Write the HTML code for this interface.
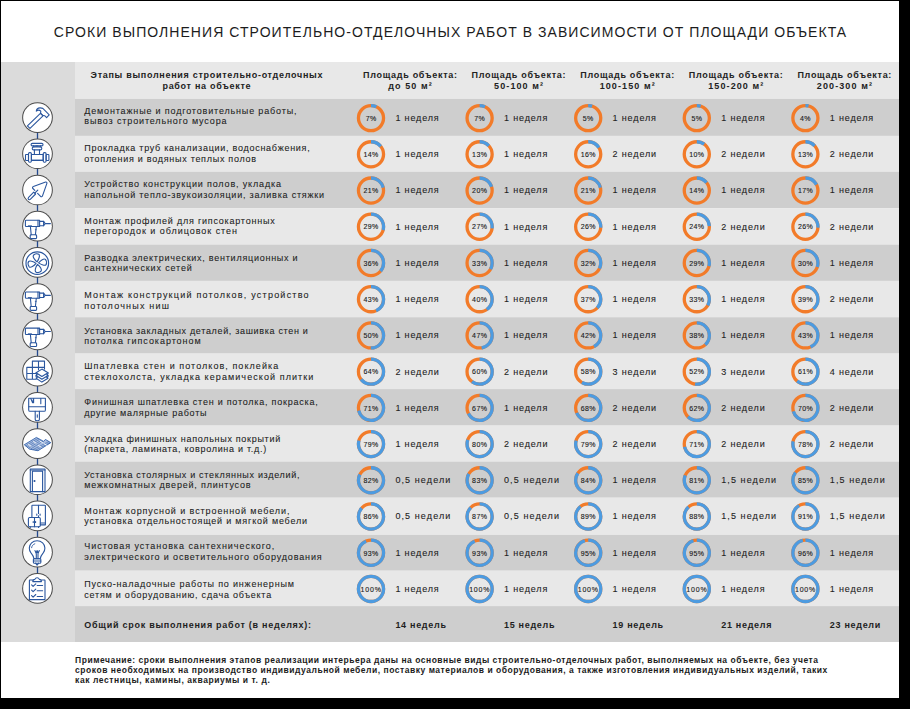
<!DOCTYPE html>
<html><head><meta charset="utf-8"><style>
html,body{margin:0;padding:0;background:#000;width:910px;height:709px;overflow:hidden;}
body{position:relative;font-family:"Liberation Sans",sans-serif;}
.card{position:absolute;left:1px;top:1px;width:898px;height:697px;background:#fff;}
.a{position:absolute;white-space:nowrap;}
.title{font-size:14px;letter-spacing:1.055px;color:#1c1c1c;}
.hd{font-size:9px;font-weight:bold;letter-spacing:0.7px;color:#222;}
.hc{font-size:9px;font-weight:bold;letter-spacing:0.7px;color:#222;}
.hc2{font-size:9px;font-weight:bold;letter-spacing:1.1px;color:#222;}
.st{font-size:9px;letter-spacing:0.77px;color:#222;-webkit-text-stroke:0.08px #222;}
.dur{font-size:9px;letter-spacing:0.85px;color:#1e1e1e;-webkit-text-stroke:0.1px #1e1e1e;}
.w{letter-spacing:1.1px !important;}
.p3{letter-spacing:0.8px !important;}
.pc{font-size:7px;font-weight:normal;letter-spacing:0.4px;color:#1a1a1a;-webkit-text-stroke:0.12px #1a1a1a;}
.tot{font-size:9px;font-weight:bold;letter-spacing:0.7px;color:#1e1e1e;}
.totl{font-size:9px;font-weight:bold;letter-spacing:0.74px;color:#1e1e1e;}
.note{font-size:8.5px;font-weight:bold;letter-spacing:0.521px;color:#1c1c1c;}
</style></head><body>
<div class="card"></div>

<svg class="a" style="left:0;top:0" width="910" height="709"><rect x="1" y="62.0" width="74" height="580.00" fill="#dbdbdb"/><rect x="75" y="62.0" width="824" height="36.90" fill="#e8e8e8"/><rect x="75" y="98.90" width="824" height="37.00" fill="#cecece"/><rect x="75" y="135.90" width="824" height="35.90" fill="#e8e8e8"/><rect x="75" y="171.80" width="824" height="36.30" fill="#cecece"/><rect x="75" y="208.10" width="824" height="36.50" fill="#e8e8e8"/><rect x="75" y="244.60" width="824" height="36.30" fill="#cecece"/><rect x="75" y="280.90" width="824" height="36.30" fill="#e8e8e8"/><rect x="75" y="317.20" width="824" height="36.40" fill="#cecece"/><rect x="75" y="353.60" width="824" height="35.50" fill="#e8e8e8"/><rect x="75" y="389.10" width="824" height="36.50" fill="#cecece"/><rect x="75" y="425.60" width="824" height="36.00" fill="#e8e8e8"/><rect x="75" y="461.60" width="824" height="36.10" fill="#cecece"/><rect x="75" y="497.70" width="824" height="37.20" fill="#e8e8e8"/><rect x="75" y="534.90" width="824" height="35.80" fill="#cecece"/><rect x="75" y="570.70" width="824" height="35.40" fill="#e8e8e8"/><rect x="75" y="606.10" width="824" height="35.90" fill="#cecece"/></svg>
<div class="a title" style="left:-49.48px;width:1000px;text-align:center;top:24px;line-height:16px">СРОКИ ВЫПОЛНЕНИЯ СТРОИТЕЛЬНО-ОТДЕЛОЧНЫХ РАБОТ В ЗАВИСИМОСТИ ОТ ПЛОЩАДИ ОБЪЕКТА</div>
<div class="a hd" style="left:-293.15px;width:1000px;text-align:center;top:70px;line-height:10px">Этапы выполнения строительно-отделочных</div>
<div class="a hd" style="left:-293.15px;width:1000px;text-align:center;top:81px;line-height:10px">работ на объекте</div>
<div class="a hc" style="left:-89.65px;width:1000px;text-align:center;top:70px;line-height:10px">Площадь объекта:</div>
<div class="a hc2" style="left:-89.45px;width:1000px;text-align:center;top:81px;line-height:10px">до 50 м²</div>
<div class="a hc" style="left:18.95px;width:1000px;text-align:center;top:70px;line-height:10px">Площадь объекта:</div>
<div class="a hc2" style="left:19.15px;width:1000px;text-align:center;top:81px;line-height:10px">50-100 м²</div>
<div class="a hc" style="left:127.55px;width:1000px;text-align:center;top:70px;line-height:10px">Площадь объекта:</div>
<div class="a hc2" style="left:127.75px;width:1000px;text-align:center;top:81px;line-height:10px">100-150 м²</div>
<div class="a hc" style="left:236.15px;width:1000px;text-align:center;top:70px;line-height:10px">Площадь объекта:</div>
<div class="a hc2" style="left:236.35px;width:1000px;text-align:center;top:81px;line-height:10px">150-200 м²</div>
<div class="a hc" style="left:344.75px;width:1000px;text-align:center;top:70px;line-height:10px">Площадь объекта:</div>
<div class="a hc2" style="left:344.95px;width:1000px;text-align:center;top:81px;line-height:10px">200-300 м²</div>
<div class="a st" style="left:84.30px;top:106px;line-height:10px"><span style="letter-spacing:0.839px">Демонтажные и подготовительные работы,</span></div>
<div class="a st" style="left:84.30px;top:116px;line-height:10px"><span style="letter-spacing:0.862px">вывоз строительного мусора</span></div>
<div class="a pc" style="left:-128.90px;width:1000px;text-align:center;top:115px;line-height:7px">7%</div>
<div class="a dur" style="left:395.40px;top:113px;line-height:10px">1 неделя</div>
<div class="a pc" style="left:-20.30px;width:1000px;text-align:center;top:115px;line-height:7px">7%</div>
<div class="a dur" style="left:504.00px;top:113px;line-height:10px">1 неделя</div>
<div class="a pc" style="left:88.30px;width:1000px;text-align:center;top:115px;line-height:7px">5%</div>
<div class="a dur" style="left:612.60px;top:113px;line-height:10px">1 неделя</div>
<div class="a pc" style="left:196.90px;width:1000px;text-align:center;top:115px;line-height:7px">5%</div>
<div class="a dur" style="left:721.20px;top:113px;line-height:10px">1 неделя</div>
<div class="a pc" style="left:305.50px;width:1000px;text-align:center;top:115px;line-height:7px">4%</div>
<div class="a dur" style="left:829.80px;top:113px;line-height:10px">1 неделя</div>
<div class="a st" style="left:84.30px;top:143px;line-height:10px"><span style="letter-spacing:0.733px">Прокладка труб канализации, водоснабжения,</span></div>
<div class="a st" style="left:84.30px;top:154px;line-height:10px"><span style="letter-spacing:0.722px">отопления и водяных теплых полов</span></div>
<div class="a pc" style="left:-128.90px;width:1000px;text-align:center;top:151px;line-height:7px">14%</div>
<div class="a dur" style="left:395.40px;top:149px;line-height:10px">1 неделя</div>
<div class="a pc" style="left:-20.30px;width:1000px;text-align:center;top:151px;line-height:7px">13%</div>
<div class="a dur" style="left:504.00px;top:149px;line-height:10px">1 неделя</div>
<div class="a pc" style="left:88.30px;width:1000px;text-align:center;top:151px;line-height:7px">16%</div>
<div class="a dur" style="left:612.60px;top:149px;line-height:10px">2 недели</div>
<div class="a pc" style="left:196.90px;width:1000px;text-align:center;top:151px;line-height:7px">10%</div>
<div class="a dur" style="left:721.20px;top:149px;line-height:10px">2 недели</div>
<div class="a pc" style="left:305.50px;width:1000px;text-align:center;top:151px;line-height:7px">13%</div>
<div class="a dur" style="left:829.80px;top:149px;line-height:10px">2 недели</div>
<div class="a st" style="left:84.30px;top:179px;line-height:10px"><span style="letter-spacing:0.845px">Устройство конструкции полов, укладка</span></div>
<div class="a st" style="left:84.30px;top:190px;line-height:10px"><span style="letter-spacing:0.788px">напольной тепло-звукоизоляции, заливка стяжки</span></div>
<div class="a pc" style="left:-128.90px;width:1000px;text-align:center;top:187px;line-height:7px">21%</div>
<div class="a dur" style="left:395.40px;top:185px;line-height:10px">1 неделя</div>
<div class="a pc" style="left:-20.30px;width:1000px;text-align:center;top:187px;line-height:7px">20%</div>
<div class="a dur" style="left:504.00px;top:185px;line-height:10px">1 неделя</div>
<div class="a pc" style="left:88.30px;width:1000px;text-align:center;top:187px;line-height:7px">21%</div>
<div class="a dur" style="left:612.60px;top:185px;line-height:10px">1 неделя</div>
<div class="a pc" style="left:196.90px;width:1000px;text-align:center;top:187px;line-height:7px">14%</div>
<div class="a dur" style="left:721.20px;top:185px;line-height:10px">1 неделя</div>
<div class="a pc" style="left:305.50px;width:1000px;text-align:center;top:187px;line-height:7px">17%</div>
<div class="a dur" style="left:829.80px;top:185px;line-height:10px">1 неделя</div>
<div class="a st" style="left:84.30px;top:216px;line-height:10px"><span style="letter-spacing:0.776px">Монтаж профилей для гипсокартонных</span></div>
<div class="a st" style="left:84.30px;top:226px;line-height:10px"><span style="letter-spacing:0.963px">перегородок и облицовок стен</span></div>
<div class="a pc" style="left:-128.90px;width:1000px;text-align:center;top:223px;line-height:7px">29%</div>
<div class="a dur" style="left:395.40px;top:222px;line-height:10px">1 неделя</div>
<div class="a pc" style="left:-20.30px;width:1000px;text-align:center;top:223px;line-height:7px">27%</div>
<div class="a dur" style="left:504.00px;top:222px;line-height:10px">1 неделя</div>
<div class="a pc" style="left:88.30px;width:1000px;text-align:center;top:223px;line-height:7px">26%</div>
<div class="a dur" style="left:612.60px;top:222px;line-height:10px">1 неделя</div>
<div class="a pc" style="left:196.90px;width:1000px;text-align:center;top:223px;line-height:7px">24%</div>
<div class="a dur" style="left:721.20px;top:222px;line-height:10px">2 недели</div>
<div class="a pc" style="left:305.50px;width:1000px;text-align:center;top:223px;line-height:7px">26%</div>
<div class="a dur" style="left:829.80px;top:222px;line-height:10px">2 недели</div>
<div class="a st" style="left:84.30px;top:253px;line-height:10px"><span style="letter-spacing:0.747px">Разводка электрических, вентиляционных и</span></div>
<div class="a st" style="left:84.30px;top:263px;line-height:10px"><span style="letter-spacing:0.859px">сантехнических сетей</span></div>
<div class="a pc" style="left:-128.90px;width:1000px;text-align:center;top:260px;line-height:7px">36%</div>
<div class="a dur" style="left:395.40px;top:258px;line-height:10px">1 неделя</div>
<div class="a pc" style="left:-20.30px;width:1000px;text-align:center;top:260px;line-height:7px">33%</div>
<div class="a dur" style="left:504.00px;top:258px;line-height:10px">1 неделя</div>
<div class="a pc" style="left:88.30px;width:1000px;text-align:center;top:260px;line-height:7px">32%</div>
<div class="a dur" style="left:612.60px;top:258px;line-height:10px">1 неделя</div>
<div class="a pc" style="left:196.90px;width:1000px;text-align:center;top:260px;line-height:7px">29%</div>
<div class="a dur" style="left:721.20px;top:258px;line-height:10px">1 неделя</div>
<div class="a pc" style="left:305.50px;width:1000px;text-align:center;top:260px;line-height:7px">30%</div>
<div class="a dur" style="left:829.80px;top:258px;line-height:10px">1 неделя</div>
<div class="a st" style="left:84.30px;top:290px;line-height:10px"><span style="letter-spacing:1.225px">Монтаж конструкций потолков, устройство</span></div>
<div class="a st" style="left:84.30px;top:301px;line-height:10px"><span style="letter-spacing:1.201px">потолочных ниш</span></div>
<div class="a pc" style="left:-128.90px;width:1000px;text-align:center;top:296px;line-height:7px">43%</div>
<div class="a dur" style="left:395.40px;top:294px;line-height:10px">1 неделя</div>
<div class="a pc" style="left:-20.30px;width:1000px;text-align:center;top:296px;line-height:7px">40%</div>
<div class="a dur" style="left:504.00px;top:294px;line-height:10px">1 неделя</div>
<div class="a pc" style="left:88.30px;width:1000px;text-align:center;top:296px;line-height:7px">37%</div>
<div class="a dur" style="left:612.60px;top:294px;line-height:10px">1 неделя</div>
<div class="a pc" style="left:196.90px;width:1000px;text-align:center;top:296px;line-height:7px">33%</div>
<div class="a dur" style="left:721.20px;top:294px;line-height:10px">1 неделя</div>
<div class="a pc" style="left:305.50px;width:1000px;text-align:center;top:296px;line-height:7px">39%</div>
<div class="a dur" style="left:829.80px;top:294px;line-height:10px">2 недели</div>
<div class="a st" style="left:84.30px;top:326px;line-height:10px"><span style="letter-spacing:0.672px">Установка закладных деталей, зашивка стен и</span></div>
<div class="a st" style="left:84.30px;top:336px;line-height:10px"><span style="letter-spacing:0.95px">потолка гипсокартоном</span></div>
<div class="a pc" style="left:-128.90px;width:1000px;text-align:center;top:332px;line-height:7px">50%</div>
<div class="a dur" style="left:395.40px;top:330px;line-height:10px">1 неделя</div>
<div class="a pc" style="left:-20.30px;width:1000px;text-align:center;top:332px;line-height:7px">47%</div>
<div class="a dur" style="left:504.00px;top:330px;line-height:10px">1 неделя</div>
<div class="a pc" style="left:88.30px;width:1000px;text-align:center;top:332px;line-height:7px">42%</div>
<div class="a dur" style="left:612.60px;top:330px;line-height:10px">1 неделя</div>
<div class="a pc" style="left:196.90px;width:1000px;text-align:center;top:332px;line-height:7px">38%</div>
<div class="a dur" style="left:721.20px;top:330px;line-height:10px">1 неделя</div>
<div class="a pc" style="left:305.50px;width:1000px;text-align:center;top:332px;line-height:7px">43%</div>
<div class="a dur" style="left:829.80px;top:330px;line-height:10px">1 неделя</div>
<div class="a st" style="left:84.30px;top:361px;line-height:10px"><span style="letter-spacing:1.055px">Шпатлевка стен и потолков, поклейка</span></div>
<div class="a st" style="left:84.30px;top:372px;line-height:10px"><span style="letter-spacing:1.082px">стеклохолста, укладка керамической плитки</span></div>
<div class="a pc" style="left:-128.90px;width:1000px;text-align:center;top:368px;line-height:7px">64%</div>
<div class="a dur" style="left:395.40px;top:367px;line-height:10px">2 недели</div>
<div class="a pc" style="left:-20.30px;width:1000px;text-align:center;top:368px;line-height:7px">60%</div>
<div class="a dur" style="left:504.00px;top:367px;line-height:10px">2 недели</div>
<div class="a pc" style="left:88.30px;width:1000px;text-align:center;top:368px;line-height:7px">58%</div>
<div class="a dur" style="left:612.60px;top:367px;line-height:10px">3 недели</div>
<div class="a pc" style="left:196.90px;width:1000px;text-align:center;top:368px;line-height:7px">52%</div>
<div class="a dur" style="left:721.20px;top:367px;line-height:10px">3 недели</div>
<div class="a pc" style="left:305.50px;width:1000px;text-align:center;top:368px;line-height:7px">61%</div>
<div class="a dur" style="left:829.80px;top:367px;line-height:10px">4 недели</div>
<div class="a st" style="left:84.30px;top:397px;line-height:10px"><span style="letter-spacing:0.768px">Финишная шпатлевка стен и потолка, покраска,</span></div>
<div class="a st" style="left:84.30px;top:408px;line-height:10px"><span style="letter-spacing:0.756px">другие малярные работы</span></div>
<div class="a pc" style="left:-128.90px;width:1000px;text-align:center;top:405px;line-height:7px">71%</div>
<div class="a dur" style="left:395.40px;top:403px;line-height:10px">1 неделя</div>
<div class="a pc" style="left:-20.30px;width:1000px;text-align:center;top:405px;line-height:7px">67%</div>
<div class="a dur" style="left:504.00px;top:403px;line-height:10px">1 неделя</div>
<div class="a pc" style="left:88.30px;width:1000px;text-align:center;top:405px;line-height:7px">68%</div>
<div class="a dur" style="left:612.60px;top:403px;line-height:10px">2 недели</div>
<div class="a pc" style="left:196.90px;width:1000px;text-align:center;top:405px;line-height:7px">62%</div>
<div class="a dur" style="left:721.20px;top:403px;line-height:10px">2 недели</div>
<div class="a pc" style="left:305.50px;width:1000px;text-align:center;top:405px;line-height:7px">70%</div>
<div class="a dur" style="left:829.80px;top:403px;line-height:10px">2 недели</div>
<div class="a st" style="left:84.30px;top:434px;line-height:10px"><span style="letter-spacing:0.699px">Укладка финишных напольных покрытий</span></div>
<div class="a st" style="left:84.30px;top:444px;line-height:10px"><span style="letter-spacing:0.712px">(паркета, ламината, ковролина и т.д.)</span></div>
<div class="a pc" style="left:-128.90px;width:1000px;text-align:center;top:441px;line-height:7px">79%</div>
<div class="a dur" style="left:395.40px;top:439px;line-height:10px">1 неделя</div>
<div class="a pc" style="left:-20.30px;width:1000px;text-align:center;top:441px;line-height:7px">80%</div>
<div class="a dur" style="left:504.00px;top:439px;line-height:10px">2 недели</div>
<div class="a pc" style="left:88.30px;width:1000px;text-align:center;top:441px;line-height:7px">79%</div>
<div class="a dur" style="left:612.60px;top:439px;line-height:10px">2 недели</div>
<div class="a pc" style="left:196.90px;width:1000px;text-align:center;top:441px;line-height:7px">71%</div>
<div class="a dur" style="left:721.20px;top:439px;line-height:10px">2 недели</div>
<div class="a pc" style="left:305.50px;width:1000px;text-align:center;top:441px;line-height:7px">78%</div>
<div class="a dur" style="left:829.80px;top:439px;line-height:10px">2 недели</div>
<div class="a st" style="left:84.30px;top:470px;line-height:10px"><span style="letter-spacing:0.698px">Установка столярных и стеклянных изделий,</span></div>
<div class="a st" style="left:84.30px;top:480px;line-height:10px"><span style="letter-spacing:0.811px">межкомнатных дверей, плинтусов</span></div>
<div class="a pc" style="left:-128.90px;width:1000px;text-align:center;top:477px;line-height:7px">82%</div>
<div class="a dur w" style="left:395.40px;top:475px;line-height:10px">0,5 недели</div>
<div class="a pc" style="left:-20.30px;width:1000px;text-align:center;top:477px;line-height:7px">83%</div>
<div class="a dur w" style="left:504.00px;top:475px;line-height:10px">0,5 недели</div>
<div class="a pc" style="left:88.30px;width:1000px;text-align:center;top:477px;line-height:7px">84%</div>
<div class="a dur" style="left:612.60px;top:475px;line-height:10px">1 неделя</div>
<div class="a pc" style="left:196.90px;width:1000px;text-align:center;top:477px;line-height:7px">81%</div>
<div class="a dur w" style="left:721.20px;top:475px;line-height:10px">1,5 недели</div>
<div class="a pc" style="left:305.50px;width:1000px;text-align:center;top:477px;line-height:7px">85%</div>
<div class="a dur w" style="left:829.80px;top:475px;line-height:10px">1,5 недели</div>
<div class="a st" style="left:84.30px;top:506px;line-height:10px"><span style="letter-spacing:0.909px">Монтаж корпусной и встроенной мебели,</span></div>
<div class="a st" style="left:84.30px;top:516px;line-height:10px"><span style="letter-spacing:0.803px">установка отдельностоящей и мягкой мебели</span></div>
<div class="a pc" style="left:-128.90px;width:1000px;text-align:center;top:513px;line-height:7px">86%</div>
<div class="a dur w" style="left:395.40px;top:511px;line-height:10px">0,5 недели</div>
<div class="a pc" style="left:-20.30px;width:1000px;text-align:center;top:513px;line-height:7px">87%</div>
<div class="a dur w" style="left:504.00px;top:511px;line-height:10px">0,5 недели</div>
<div class="a pc" style="left:88.30px;width:1000px;text-align:center;top:513px;line-height:7px">89%</div>
<div class="a dur" style="left:612.60px;top:511px;line-height:10px">1 неделя</div>
<div class="a pc" style="left:196.90px;width:1000px;text-align:center;top:513px;line-height:7px">88%</div>
<div class="a dur w" style="left:721.20px;top:511px;line-height:10px">1,5 недели</div>
<div class="a pc" style="left:305.50px;width:1000px;text-align:center;top:513px;line-height:7px">91%</div>
<div class="a dur w" style="left:829.80px;top:511px;line-height:10px">1,5 недели</div>
<div class="a st" style="left:84.30px;top:541px;line-height:10px"><span style="letter-spacing:0.955px">Чистовая установка сантехнического,</span></div>
<div class="a st" style="left:84.30px;top:552px;line-height:10px"><span style="letter-spacing:0.856px">электрического и осветительного оборудования</span></div>
<div class="a pc" style="left:-128.90px;width:1000px;text-align:center;top:550px;line-height:7px">93%</div>
<div class="a dur" style="left:395.40px;top:548px;line-height:10px">1 неделя</div>
<div class="a pc" style="left:-20.30px;width:1000px;text-align:center;top:550px;line-height:7px">93%</div>
<div class="a dur" style="left:504.00px;top:548px;line-height:10px">1 неделя</div>
<div class="a pc" style="left:88.30px;width:1000px;text-align:center;top:550px;line-height:7px">95%</div>
<div class="a dur" style="left:612.60px;top:548px;line-height:10px">1 неделя</div>
<div class="a pc" style="left:196.90px;width:1000px;text-align:center;top:550px;line-height:7px">95%</div>
<div class="a dur" style="left:721.20px;top:548px;line-height:10px">1 неделя</div>
<div class="a pc" style="left:305.50px;width:1000px;text-align:center;top:550px;line-height:7px">96%</div>
<div class="a dur" style="left:829.80px;top:548px;line-height:10px">1 неделя</div>
<div class="a st" style="left:84.30px;top:579px;line-height:10px"><span style="letter-spacing:0.812px">Пуско-наладочные работы по инженерным</span></div>
<div class="a st" style="left:84.30px;top:590px;line-height:10px"><span style="letter-spacing:0.77px">сетям и оборудованию, сдача объекта</span></div>
<div class="a pc p3" style="left:-128.90px;width:1000px;text-align:center;top:586px;line-height:7px">100%</div>
<div class="a dur" style="left:395.40px;top:584px;line-height:10px">1 неделя</div>
<div class="a pc p3" style="left:-20.30px;width:1000px;text-align:center;top:586px;line-height:7px">100%</div>
<div class="a dur" style="left:504.00px;top:584px;line-height:10px">1 неделя</div>
<div class="a pc p3" style="left:88.30px;width:1000px;text-align:center;top:586px;line-height:7px">100%</div>
<div class="a dur" style="left:612.60px;top:584px;line-height:10px">1 неделя</div>
<div class="a pc p3" style="left:196.90px;width:1000px;text-align:center;top:586px;line-height:7px">100%</div>
<div class="a dur" style="left:721.20px;top:584px;line-height:10px">1 неделя</div>
<div class="a pc p3" style="left:305.50px;width:1000px;text-align:center;top:586px;line-height:7px">100%</div>
<div class="a dur" style="left:829.80px;top:584px;line-height:10px">1 неделя</div>
<div class="a totl" style="left:84.30px;top:620px;line-height:10px">Общий срок выполнения работ (в неделях):</div>
<div class="a tot" style="left:395.40px;top:620px;line-height:10px">14 недель</div>
<div class="a tot" style="left:504.00px;top:620px;line-height:10px">15 недель</div>
<div class="a tot" style="left:612.60px;top:620px;line-height:10px">19 недель</div>
<div class="a tot" style="left:721.20px;top:620px;line-height:10px">21 неделя</div>
<div class="a tot" style="left:829.80px;top:620px;line-height:10px">23 недели</div>
<svg class="a" style="left:0;top:0" width="910" height="709"><line x1="37.5" y1="117.55" x2="37.5" y2="153.77" stroke="#23498f" stroke-width="1.3"/><line x1="37.5" y1="153.77" x2="37.5" y2="189.99" stroke="#23498f" stroke-width="1.3"/><line x1="37.5" y1="189.99" x2="37.5" y2="226.21" stroke="#23498f" stroke-width="1.3"/><line x1="37.5" y1="226.21" x2="37.5" y2="262.43" stroke="#23498f" stroke-width="1.3"/><line x1="37.5" y1="262.43" x2="37.5" y2="298.65" stroke="#23498f" stroke-width="1.3"/><line x1="37.5" y1="298.65" x2="37.5" y2="334.87" stroke="#23498f" stroke-width="1.3"/><line x1="37.5" y1="334.87" x2="37.5" y2="371.09" stroke="#23498f" stroke-width="1.3"/><line x1="37.5" y1="371.09" x2="37.5" y2="407.31" stroke="#23498f" stroke-width="1.3"/><line x1="37.5" y1="407.31" x2="37.5" y2="443.53" stroke="#23498f" stroke-width="1.3"/><line x1="37.5" y1="443.53" x2="37.5" y2="479.75" stroke="#23498f" stroke-width="1.3"/><line x1="37.5" y1="479.75" x2="37.5" y2="515.97" stroke="#23498f" stroke-width="1.3"/><line x1="37.5" y1="515.97" x2="37.5" y2="552.19" stroke="#23498f" stroke-width="1.3"/><line x1="37.5" y1="552.19" x2="37.5" y2="588.41" stroke="#23498f" stroke-width="1.3"/><circle cx="37.5" cy="117.55" r="15.35" fill="#4d4d4d"/><circle cx="37.5" cy="117.55" r="14.35" fill="#fff"/><g transform="translate(21.00,101.50)"><g fill="none" stroke="#2a569e" stroke-width="1.1" stroke-linejoin="round" stroke-linecap="round"><path d="M6.4,24.3 L19.4,11.8 L22,14.4 L9,26.9 Z"/><path d="M15.3,9.6 C15.6,7.4 17.3,6.3 19.3,6.4 L21.8,6.9 L25.8,10.9 L28.2,13.3 L25.6,16.2 L23.6,14.2 L21.8,13.8 L19.6,11.6 L19.8,9.6 C18.6,8.4 16.8,8.4 15.3,9.6 Z"/></g></g><circle cx="37.5" cy="153.77" r="15.35" fill="#4d4d4d"/><circle cx="37.5" cy="153.77" r="14.35" fill="#fff"/><g transform="translate(21.00,137.27)"><g fill="none" stroke="#2a569e" stroke-width="1.1" stroke-linejoin="round" stroke-linecap="round"><rect x="4.5" y="17.3" width="3" height="6" rx="0.6"/><rect x="7.5" y="15.4" width="2.9" height="9.6" rx="1.2"/><rect x="10.4" y="17.3" width="11.8" height="6"/><rect x="22.2" y="15.4" width="2.9" height="9.6" rx="1.2"/><rect x="25.1" y="17.3" width="2.8" height="6" rx="0.6"/><path d="M13.4,17.3 V12.6 M18.5,17.3 V12.6"/><rect x="11.3" y="9.6" width="9.4" height="3" rx="1.2"/><rect x="10.1" y="6.1" width="11.9" height="2.5" rx="1.2"/><path d="M12.5,8.6 L12.8,9.6 M19.5,8.6 L19.2,9.6 M15,8.8 h2"/><path d="M10.4,22.3 H22.2" stroke-width="0.8" opacity="0.6"/></g></g><circle cx="37.5" cy="189.99" r="15.35" fill="#4d4d4d"/><circle cx="37.5" cy="189.99" r="14.35" fill="#fff"/><g transform="translate(21.00,173.99)"><g fill="none" stroke="#2a569e" stroke-width="1.1" stroke-linejoin="round" stroke-linecap="round"><path d="M13.8,16.4 L11.9,14.5 C11.2,13.8 11.5,12.8 12.4,12.5 L24.6,8.1 C25.5,7.8 26.2,8.5 25.9,9.4 L21.5,21.9 C21.2,22.8 20.2,23 19.6,22.4 L16.6,19.4"/><path d="M16.8,16.1 L13.9,19"/><path d="M14.6,20 L9.5,25.2 C8.9,25.8 8,25.8 7.5,25.3 C7,24.8 7,23.9 7.6,23.3 L12.7,18.1 Z"/></g></g><circle cx="37.5" cy="226.21" r="15.35" fill="#4d4d4d"/><circle cx="37.5" cy="226.21" r="14.35" fill="#fff"/><g transform="translate(21.00,210.21)"><g fill="none" stroke="#2a569e" stroke-width="1.1" stroke-linejoin="round" stroke-linecap="round"><path d="M5.2,10 H18.6 V16.3 H5.2 C4.7,16.3 4.4,16 4.4,15.5 V10.8 C4.4,10.3 4.7,10 5.2,10 Z"/><path d="M17,10.2 V16.1"/><path d="M18.6,11.2 H22.6 L24.2,13.3 L22.6,15.6 H18.6"/><path d="M22.6,11.2 V15.6"/><path d="M24.2,13.4 H29.4"/><path d="M7.3,15.6 H10.5" stroke-width="0.9"/><path d="M9.4,16.3 L10.2,24.6 M15.3,16.3 L14.4,24.6"/><path d="M14.3,19.5 h0.9" stroke-width="0.8"/><rect x="9.2" y="24.6" width="6.4" height="3.8" rx="0.9"/></g></g><circle cx="37.5" cy="262.43" r="15.35" fill="#4d4d4d"/><circle cx="37.5" cy="262.43" r="14.35" fill="#fff"/><g transform="translate(21.00,245.93)"><g fill="none" stroke="#2a569e" stroke-width="1.15" stroke-linejoin="round" stroke-linecap="round"><circle cx="16.3" cy="17.2" r="11.3"/><g transform="translate(16.3,17.2) rotate(-10)"><path d="M0,-1.3 C-2.2,-3.8 -3.8,-7.5 -2.2,-8.6 C-0.8,-9.5 1.8,-9.5 3.0,-8.4 C4.2,-7.2 2.4,-3.6 0,-1.3 Z"/></g><g transform="translate(16.3,17.2) rotate(80)"><path d="M0,-1.3 C-2.2,-3.8 -3.8,-7.5 -2.2,-8.6 C-0.8,-9.5 1.8,-9.5 3.0,-8.4 C4.2,-7.2 2.4,-3.6 0,-1.3 Z"/></g><g transform="translate(16.3,17.2) rotate(170)"><path d="M0,-1.3 C-2.2,-3.8 -3.8,-7.5 -2.2,-8.6 C-0.8,-9.5 1.8,-9.5 3.0,-8.4 C4.2,-7.2 2.4,-3.6 0,-1.3 Z"/></g><g transform="translate(16.3,17.2) rotate(260)"><path d="M0,-1.3 C-2.2,-3.8 -3.8,-7.5 -2.2,-8.6 C-0.8,-9.5 1.8,-9.5 3.0,-8.4 C4.2,-7.2 2.4,-3.6 0,-1.3 Z"/></g></g></g><circle cx="37.5" cy="298.65" r="15.35" fill="#4d4d4d"/><circle cx="37.5" cy="298.65" r="14.35" fill="#fff"/><g transform="translate(21.00,281.95)"><g fill="none" stroke="#2a569e" stroke-width="1.1" stroke-linejoin="round" stroke-linecap="round"><path d="M5.2,10 H18.6 V16.3 H5.2 C4.7,16.3 4.4,16 4.4,15.5 V10.8 C4.4,10.3 4.7,10 5.2,10 Z"/><path d="M17,10.2 V16.1"/><path d="M18.6,11.2 H22.6 L24.2,13.3 L22.6,15.6 H18.6"/><path d="M22.6,11.2 V15.6"/><path d="M24.2,13.4 H29.4"/><path d="M7.3,15.6 H10.5" stroke-width="0.9"/><path d="M9.4,16.3 L10.2,24.6 M15.3,16.3 L14.4,24.6"/><path d="M14.3,19.5 h0.9" stroke-width="0.8"/><rect x="9.2" y="24.6" width="6.4" height="3.8" rx="0.9"/></g></g><circle cx="37.5" cy="334.87" r="15.35" fill="#4d4d4d"/><circle cx="37.5" cy="334.87" r="14.35" fill="#fff"/><g transform="translate(21.00,318.17)"><g fill="none" stroke="#2a569e" stroke-width="1.1" stroke-linejoin="round" stroke-linecap="round"><path d="M5.2,10 H18.6 V16.3 H5.2 C4.7,16.3 4.4,16 4.4,15.5 V10.8 C4.4,10.3 4.7,10 5.2,10 Z"/><path d="M17,10.2 V16.1"/><path d="M18.6,11.2 H22.6 L24.2,13.3 L22.6,15.6 H18.6"/><path d="M22.6,11.2 V15.6"/><path d="M24.2,13.4 H29.4"/><path d="M7.3,15.6 H10.5" stroke-width="0.9"/><path d="M9.4,16.3 L10.2,24.6 M15.3,16.3 L14.4,24.6"/><path d="M14.3,19.5 h0.9" stroke-width="0.8"/><rect x="9.2" y="24.6" width="6.4" height="3.8" rx="0.9"/></g></g><circle cx="37.5" cy="371.09" r="15.35" fill="#4d4d4d"/><circle cx="37.5" cy="371.09" r="14.35" fill="#fff"/><g transform="translate(21.00,355.09)"><g fill="none" stroke="#2a569e" stroke-width="1.1" stroke-linejoin="round" stroke-linecap="round"><path d="M15.2,18.4 H5.8 V12.3 H23.5 V14 M5.8,18.4 V24.2 H15.2 M11.4,6 H23.5 V13.8 M11.4,6 V24.2 M17.5,6 V14.6 M5.8,18.4 H15"/><path d="M15.1,17.7 L20.9,14 L27,17.7 L20.9,21.4 Z" fill="#fff"/><path d="M15.1,17.8 V18.8 L16.3,19.6 L15.1,20.4 L20.9,24.2 L27,20.4 L25.7,19.6 L27,18.8 V17.8"/><path d="M15.1,20.5 V21.6 L16.3,22.4 L15.1,23.2 L20.9,27 L27,23.2 L25.7,22.4 L27,21.6 V20.5"/></g></g><circle cx="37.5" cy="407.31" r="15.35" fill="#4d4d4d"/><circle cx="37.5" cy="407.31" r="14.35" fill="#fff"/><g transform="translate(21.00,391.31)"><g fill="none" stroke="#2a569e" stroke-width="1.1" stroke-linejoin="round" stroke-linecap="round"><path d="M7.7,15.4 V7 H24.4 V15.4 Z"/><path d="M7.7,15.4 V18.6 C7.7,19.4 8.2,20 9,20 H23.1 C23.9,20 24.4,19.4 24.4,18.6 V15.4"/><path d="M14.2,20 V28.1 C14.2,28.9 15.2,29.4 16.3,29.4 C17.4,29.4 18.4,28.9 18.4,28.1 V20"/><path d="M9.8,7.2 L11.6,11.4 L12.6,7.2 V11.5 M19.8,7.2 V12.4"/><path d="M16.3,23.5 V26"/></g></g><circle cx="37.5" cy="443.53" r="15.35" fill="#4d4d4d"/><circle cx="37.5" cy="443.53" r="14.35" fill="#fff"/><g transform="translate(21.00,427.13)"><path d="M3.3,17.6 L15.4,10.3 L22.6,14.3 L24.4,12.3 L29.8,15.5 L17,23.6 L8.5,22 Z" fill="#a9bde0" stroke="#3563ab" stroke-width="0.9" stroke-linejoin="round"/><g fill="none" stroke="#2e5ea6" stroke-width="0.55" stroke-linejoin="round" stroke-linecap="round"><path d="M4.9,18.6 L16.7,11.4 M6.6,19.6 L18.3,12.3 M8.3,20.6 L20,13.3 M10.3,21.5 L21.8,14.1 M12.3,22.3 L27.6,14.6 M14.8,22.9 L28.8,15.6"/></g><g fill="none" stroke="#ffffff" stroke-width="0.9" stroke-linejoin="round" stroke-linecap="round"><path d="M7.5,17.5 L10,19 M12.5,14.5 L15,16 M17.5,18.5 L20,20 M19,14 L21.5,15.5 M23,16.5 L25.5,18"/></g></g><circle cx="37.5" cy="479.75" r="15.35" fill="#4d4d4d"/><circle cx="37.5" cy="479.75" r="14.35" fill="#fff"/><g transform="translate(21.00,463.05)"><g fill="none" stroke="#2a569e" stroke-width="1.1" stroke-linejoin="round" stroke-linecap="round"><rect x="9.3" y="6" width="14.7" height="22.6"/><path d="M9.3,7 H24"/><path d="M11.4,28.6 V8.1 H21.6 V28.6"/><circle cx="13.5" cy="17.9" r="0.5" fill="#2e5ea6"/></g></g><circle cx="37.5" cy="515.97" r="15.35" fill="#4d4d4d"/><circle cx="37.5" cy="515.97" r="14.35" fill="#fff"/><g transform="translate(21.00,499.27)"><g fill="none" stroke="#2a569e" stroke-width="1.1" stroke-linejoin="round" stroke-linecap="round"><path d="M10.9,18.2 V6.6 C10.9,6.3 11.2,6 11.5,6 H23.8 C24.1,6 24.4,6.3 24.4,6.6 V25.6 H19.3"/><path d="M17.5,6 V14.2 M17.5,16.6 V18.2 M19.3,23.8 H24.4"/><path d="M15.8,14.8 V16 M19.1,14.8 V16"/><rect x="7.4" y="18.2" width="11.9" height="9.3" rx="1.2"/><path d="M13.5,18.2 V27.5 M12.2,22.3 V23.3 M14.6,22.3 V23.3 M9.3,27.5 V28.2 M17.6,27.5 V28.2"/></g></g><circle cx="37.5" cy="552.19" r="15.35" fill="#4d4d4d"/><circle cx="37.5" cy="552.19" r="14.35" fill="#fff"/><g transform="translate(21.00,535.49)"><g fill="none" stroke="#2a569e" stroke-width="1.1" stroke-linejoin="round" stroke-linecap="round"><path d="M13,23.3 C12.6,20.6 11.4,19.2 9.8,17.2 C8.6,15.6 8.3,14 8.3,12.6 C8.3,8.3 11.8,5.3 16.1,5.3 C20.4,5.3 23.9,8.3 23.9,12.6 C23.9,14 23.6,15.6 22.4,17.2 C20.8,19.2 19.6,20.6 19.2,23.3 Z"/><path d="M10.6,12.2 C10.8,10.4 12,9 13.8,8.3" stroke-width="0.9"/><path d="M14,15.1 L15.1,17.8 L16.1,15 L17.1,17.8 L18.3,15.1 M15.3,18 L15.3,23 M17,18 L17,23"/><rect x="12.4" y="23.3" width="7.4" height="4.4" rx="0.6"/><path d="M12.4,25.5 H19.8"/><path d="M14.6,27.7 L16.1,29.6 L17.6,27.7"/></g></g><circle cx="37.5" cy="588.41" r="15.35" fill="#4d4d4d"/><circle cx="37.5" cy="588.41" r="14.35" fill="#fff"/><g transform="translate(21.00,571.21)"><g fill="none" stroke="#2a569e" stroke-width="1.1" stroke-linejoin="round" stroke-linecap="round"><path d="M11.6,8.8 H8.8 C8.6,8.8 8.4,9 8.4,9.2 V28 C8.4,28.2 8.6,28.4 8.8,28.4 H23.6 C23.8,28.4 24,28.2 24,28 V9.2 C24,9 23.8,8.8 23.6,8.8 H20.6"/><path d="M11.8,10.4 H20.4 C20.4,9 19.5,8.2 18.5,8.2 C18,7.3 17.2,6.6 16.1,6.6 C15,6.6 14.2,7.3 13.7,8.2 C12.7,8.2 11.8,9 11.8,10.4 Z"/><path d="M10.6,13.6 L12.1,15.2 L14.8,12.6 M10.6,18.9 L12.1,20.5 L14.8,17.9 M10.6,24.3 L12.1,25.9 L14.8,23.3" stroke-width="1.1"/><path d="M16.2,14.3 H21.6 M16.2,19.6 H21.6 M16.2,25.3 H21.6" stroke-width="1.1"/></g></g><circle cx="371.00" cy="118.10" r="12.55" fill="none" stroke="#f27b29" stroke-width="3.3"/><circle cx="371.00" cy="118.10" r="12.55" fill="none" stroke="#4d9be0" stroke-width="3.3" stroke-dasharray="5.520 79.854" transform="rotate(-90 371.00 118.10)"/><circle cx="479.60" cy="118.10" r="12.55" fill="none" stroke="#f27b29" stroke-width="3.3"/><circle cx="479.60" cy="118.10" r="12.55" fill="none" stroke="#4d9be0" stroke-width="3.3" stroke-dasharray="5.520 79.854" transform="rotate(-90 479.60 118.10)"/><circle cx="588.20" cy="118.10" r="12.55" fill="none" stroke="#f27b29" stroke-width="3.3"/><circle cx="588.20" cy="118.10" r="12.55" fill="none" stroke="#4d9be0" stroke-width="3.3" stroke-dasharray="3.943 79.854" transform="rotate(-90 588.20 118.10)"/><circle cx="696.80" cy="118.10" r="12.55" fill="none" stroke="#f27b29" stroke-width="3.3"/><circle cx="696.80" cy="118.10" r="12.55" fill="none" stroke="#4d9be0" stroke-width="3.3" stroke-dasharray="3.943 79.854" transform="rotate(-90 696.80 118.10)"/><circle cx="805.40" cy="118.10" r="12.55" fill="none" stroke="#f27b29" stroke-width="3.3"/><circle cx="805.40" cy="118.10" r="12.55" fill="none" stroke="#4d9be0" stroke-width="3.3" stroke-dasharray="3.154 79.854" transform="rotate(-90 805.40 118.10)"/><circle cx="371.00" cy="154.32" r="12.55" fill="none" stroke="#f27b29" stroke-width="3.3"/><circle cx="371.00" cy="154.32" r="12.55" fill="none" stroke="#4d9be0" stroke-width="3.3" stroke-dasharray="11.040 79.854" transform="rotate(-90 371.00 154.32)"/><circle cx="479.60" cy="154.32" r="12.55" fill="none" stroke="#f27b29" stroke-width="3.3"/><circle cx="479.60" cy="154.32" r="12.55" fill="none" stroke="#4d9be0" stroke-width="3.3" stroke-dasharray="10.251 79.854" transform="rotate(-90 479.60 154.32)"/><circle cx="588.20" cy="154.32" r="12.55" fill="none" stroke="#f27b29" stroke-width="3.3"/><circle cx="588.20" cy="154.32" r="12.55" fill="none" stroke="#4d9be0" stroke-width="3.3" stroke-dasharray="12.617 79.854" transform="rotate(-90 588.20 154.32)"/><circle cx="696.80" cy="154.32" r="12.55" fill="none" stroke="#f27b29" stroke-width="3.3"/><circle cx="696.80" cy="154.32" r="12.55" fill="none" stroke="#4d9be0" stroke-width="3.3" stroke-dasharray="7.885 79.854" transform="rotate(-90 696.80 154.32)"/><circle cx="805.40" cy="154.32" r="12.55" fill="none" stroke="#f27b29" stroke-width="3.3"/><circle cx="805.40" cy="154.32" r="12.55" fill="none" stroke="#4d9be0" stroke-width="3.3" stroke-dasharray="10.251 79.854" transform="rotate(-90 805.40 154.32)"/><circle cx="371.00" cy="190.54" r="12.55" fill="none" stroke="#f27b29" stroke-width="3.3"/><circle cx="371.00" cy="190.54" r="12.55" fill="none" stroke="#4d9be0" stroke-width="3.3" stroke-dasharray="16.559 79.854" transform="rotate(-90 371.00 190.54)"/><circle cx="479.60" cy="190.54" r="12.55" fill="none" stroke="#f27b29" stroke-width="3.3"/><circle cx="479.60" cy="190.54" r="12.55" fill="none" stroke="#4d9be0" stroke-width="3.3" stroke-dasharray="15.771 79.854" transform="rotate(-90 479.60 190.54)"/><circle cx="588.20" cy="190.54" r="12.55" fill="none" stroke="#f27b29" stroke-width="3.3"/><circle cx="588.20" cy="190.54" r="12.55" fill="none" stroke="#4d9be0" stroke-width="3.3" stroke-dasharray="16.559 79.854" transform="rotate(-90 588.20 190.54)"/><circle cx="696.80" cy="190.54" r="12.55" fill="none" stroke="#f27b29" stroke-width="3.3"/><circle cx="696.80" cy="190.54" r="12.55" fill="none" stroke="#4d9be0" stroke-width="3.3" stroke-dasharray="11.040 79.854" transform="rotate(-90 696.80 190.54)"/><circle cx="805.40" cy="190.54" r="12.55" fill="none" stroke="#f27b29" stroke-width="3.3"/><circle cx="805.40" cy="190.54" r="12.55" fill="none" stroke="#4d9be0" stroke-width="3.3" stroke-dasharray="13.405 79.854" transform="rotate(-90 805.40 190.54)"/><circle cx="371.00" cy="226.76" r="12.55" fill="none" stroke="#f27b29" stroke-width="3.3"/><circle cx="371.00" cy="226.76" r="12.55" fill="none" stroke="#4d9be0" stroke-width="3.3" stroke-dasharray="22.868 79.854" transform="rotate(-90 371.00 226.76)"/><circle cx="479.60" cy="226.76" r="12.55" fill="none" stroke="#f27b29" stroke-width="3.3"/><circle cx="479.60" cy="226.76" r="12.55" fill="none" stroke="#4d9be0" stroke-width="3.3" stroke-dasharray="21.291 79.854" transform="rotate(-90 479.60 226.76)"/><circle cx="588.20" cy="226.76" r="12.55" fill="none" stroke="#f27b29" stroke-width="3.3"/><circle cx="588.20" cy="226.76" r="12.55" fill="none" stroke="#4d9be0" stroke-width="3.3" stroke-dasharray="20.502 79.854" transform="rotate(-90 588.20 226.76)"/><circle cx="696.80" cy="226.76" r="12.55" fill="none" stroke="#f27b29" stroke-width="3.3"/><circle cx="696.80" cy="226.76" r="12.55" fill="none" stroke="#4d9be0" stroke-width="3.3" stroke-dasharray="18.925 79.854" transform="rotate(-90 696.80 226.76)"/><circle cx="805.40" cy="226.76" r="12.55" fill="none" stroke="#f27b29" stroke-width="3.3"/><circle cx="805.40" cy="226.76" r="12.55" fill="none" stroke="#4d9be0" stroke-width="3.3" stroke-dasharray="20.502 79.854" transform="rotate(-90 805.40 226.76)"/><circle cx="371.00" cy="262.98" r="12.55" fill="none" stroke="#f27b29" stroke-width="3.3"/><circle cx="371.00" cy="262.98" r="12.55" fill="none" stroke="#4d9be0" stroke-width="3.3" stroke-dasharray="28.387 79.854" transform="rotate(-90 371.00 262.98)"/><circle cx="479.60" cy="262.98" r="12.55" fill="none" stroke="#f27b29" stroke-width="3.3"/><circle cx="479.60" cy="262.98" r="12.55" fill="none" stroke="#4d9be0" stroke-width="3.3" stroke-dasharray="26.022 79.854" transform="rotate(-90 479.60 262.98)"/><circle cx="588.20" cy="262.98" r="12.55" fill="none" stroke="#f27b29" stroke-width="3.3"/><circle cx="588.20" cy="262.98" r="12.55" fill="none" stroke="#4d9be0" stroke-width="3.3" stroke-dasharray="25.233 79.854" transform="rotate(-90 588.20 262.98)"/><circle cx="696.80" cy="262.98" r="12.55" fill="none" stroke="#f27b29" stroke-width="3.3"/><circle cx="696.80" cy="262.98" r="12.55" fill="none" stroke="#4d9be0" stroke-width="3.3" stroke-dasharray="22.868 79.854" transform="rotate(-90 696.80 262.98)"/><circle cx="805.40" cy="262.98" r="12.55" fill="none" stroke="#f27b29" stroke-width="3.3"/><circle cx="805.40" cy="262.98" r="12.55" fill="none" stroke="#4d9be0" stroke-width="3.3" stroke-dasharray="23.656 79.854" transform="rotate(-90 805.40 262.98)"/><circle cx="371.00" cy="299.20" r="12.55" fill="none" stroke="#f27b29" stroke-width="3.3"/><circle cx="371.00" cy="299.20" r="12.55" fill="none" stroke="#4d9be0" stroke-width="3.3" stroke-dasharray="33.907 79.854" transform="rotate(-90 371.00 299.20)"/><circle cx="479.60" cy="299.20" r="12.55" fill="none" stroke="#f27b29" stroke-width="3.3"/><circle cx="479.60" cy="299.20" r="12.55" fill="none" stroke="#4d9be0" stroke-width="3.3" stroke-dasharray="31.542 79.854" transform="rotate(-90 479.60 299.20)"/><circle cx="588.20" cy="299.20" r="12.55" fill="none" stroke="#f27b29" stroke-width="3.3"/><circle cx="588.20" cy="299.20" r="12.55" fill="none" stroke="#4d9be0" stroke-width="3.3" stroke-dasharray="29.176 79.854" transform="rotate(-90 588.20 299.20)"/><circle cx="696.80" cy="299.20" r="12.55" fill="none" stroke="#f27b29" stroke-width="3.3"/><circle cx="696.80" cy="299.20" r="12.55" fill="none" stroke="#4d9be0" stroke-width="3.3" stroke-dasharray="26.022 79.854" transform="rotate(-90 696.80 299.20)"/><circle cx="805.40" cy="299.20" r="12.55" fill="none" stroke="#f27b29" stroke-width="3.3"/><circle cx="805.40" cy="299.20" r="12.55" fill="none" stroke="#4d9be0" stroke-width="3.3" stroke-dasharray="30.753 79.854" transform="rotate(-90 805.40 299.20)"/><circle cx="371.00" cy="335.42" r="12.55" fill="none" stroke="#f27b29" stroke-width="3.3"/><circle cx="371.00" cy="335.42" r="12.55" fill="none" stroke="#4d9be0" stroke-width="3.3" stroke-dasharray="39.427 79.854" transform="rotate(-90 371.00 335.42)"/><circle cx="479.60" cy="335.42" r="12.55" fill="none" stroke="#f27b29" stroke-width="3.3"/><circle cx="479.60" cy="335.42" r="12.55" fill="none" stroke="#4d9be0" stroke-width="3.3" stroke-dasharray="37.061 79.854" transform="rotate(-90 479.60 335.42)"/><circle cx="588.20" cy="335.42" r="12.55" fill="none" stroke="#f27b29" stroke-width="3.3"/><circle cx="588.20" cy="335.42" r="12.55" fill="none" stroke="#4d9be0" stroke-width="3.3" stroke-dasharray="33.119 79.854" transform="rotate(-90 588.20 335.42)"/><circle cx="696.80" cy="335.42" r="12.55" fill="none" stroke="#f27b29" stroke-width="3.3"/><circle cx="696.80" cy="335.42" r="12.55" fill="none" stroke="#4d9be0" stroke-width="3.3" stroke-dasharray="29.965 79.854" transform="rotate(-90 696.80 335.42)"/><circle cx="805.40" cy="335.42" r="12.55" fill="none" stroke="#f27b29" stroke-width="3.3"/><circle cx="805.40" cy="335.42" r="12.55" fill="none" stroke="#4d9be0" stroke-width="3.3" stroke-dasharray="33.907 79.854" transform="rotate(-90 805.40 335.42)"/><circle cx="371.00" cy="371.64" r="12.55" fill="none" stroke="#f27b29" stroke-width="3.3"/><circle cx="371.00" cy="371.64" r="12.55" fill="none" stroke="#4d9be0" stroke-width="3.3" stroke-dasharray="50.467 79.854" transform="rotate(-90 371.00 371.64)"/><circle cx="479.60" cy="371.64" r="12.55" fill="none" stroke="#f27b29" stroke-width="3.3"/><circle cx="479.60" cy="371.64" r="12.55" fill="none" stroke="#4d9be0" stroke-width="3.3" stroke-dasharray="47.312 79.854" transform="rotate(-90 479.60 371.64)"/><circle cx="588.20" cy="371.64" r="12.55" fill="none" stroke="#f27b29" stroke-width="3.3"/><circle cx="588.20" cy="371.64" r="12.55" fill="none" stroke="#4d9be0" stroke-width="3.3" stroke-dasharray="45.735 79.854" transform="rotate(-90 588.20 371.64)"/><circle cx="696.80" cy="371.64" r="12.55" fill="none" stroke="#f27b29" stroke-width="3.3"/><circle cx="696.80" cy="371.64" r="12.55" fill="none" stroke="#4d9be0" stroke-width="3.3" stroke-dasharray="41.004 79.854" transform="rotate(-90 696.80 371.64)"/><circle cx="805.40" cy="371.64" r="12.55" fill="none" stroke="#f27b29" stroke-width="3.3"/><circle cx="805.40" cy="371.64" r="12.55" fill="none" stroke="#4d9be0" stroke-width="3.3" stroke-dasharray="48.101 79.854" transform="rotate(-90 805.40 371.64)"/><circle cx="371.00" cy="407.86" r="12.55" fill="none" stroke="#f27b29" stroke-width="3.3"/><circle cx="371.00" cy="407.86" r="12.55" fill="none" stroke="#4d9be0" stroke-width="3.3" stroke-dasharray="55.986 79.854" transform="rotate(-90 371.00 407.86)"/><circle cx="479.60" cy="407.86" r="12.55" fill="none" stroke="#f27b29" stroke-width="3.3"/><circle cx="479.60" cy="407.86" r="12.55" fill="none" stroke="#4d9be0" stroke-width="3.3" stroke-dasharray="52.832 79.854" transform="rotate(-90 479.60 407.86)"/><circle cx="588.20" cy="407.86" r="12.55" fill="none" stroke="#f27b29" stroke-width="3.3"/><circle cx="588.20" cy="407.86" r="12.55" fill="none" stroke="#4d9be0" stroke-width="3.3" stroke-dasharray="53.621 79.854" transform="rotate(-90 588.20 407.86)"/><circle cx="696.80" cy="407.86" r="12.55" fill="none" stroke="#f27b29" stroke-width="3.3"/><circle cx="696.80" cy="407.86" r="12.55" fill="none" stroke="#4d9be0" stroke-width="3.3" stroke-dasharray="48.889 79.854" transform="rotate(-90 696.80 407.86)"/><circle cx="805.40" cy="407.86" r="12.55" fill="none" stroke="#f27b29" stroke-width="3.3"/><circle cx="805.40" cy="407.86" r="12.55" fill="none" stroke="#4d9be0" stroke-width="3.3" stroke-dasharray="55.198 79.854" transform="rotate(-90 805.40 407.86)"/><circle cx="371.00" cy="444.08" r="12.55" fill="none" stroke="#f27b29" stroke-width="3.3"/><circle cx="371.00" cy="444.08" r="12.55" fill="none" stroke="#4d9be0" stroke-width="3.3" stroke-dasharray="62.295 79.854" transform="rotate(-90 371.00 444.08)"/><circle cx="479.60" cy="444.08" r="12.55" fill="none" stroke="#f27b29" stroke-width="3.3"/><circle cx="479.60" cy="444.08" r="12.55" fill="none" stroke="#4d9be0" stroke-width="3.3" stroke-dasharray="63.083 79.854" transform="rotate(-90 479.60 444.08)"/><circle cx="588.20" cy="444.08" r="12.55" fill="none" stroke="#f27b29" stroke-width="3.3"/><circle cx="588.20" cy="444.08" r="12.55" fill="none" stroke="#4d9be0" stroke-width="3.3" stroke-dasharray="62.295 79.854" transform="rotate(-90 588.20 444.08)"/><circle cx="696.80" cy="444.08" r="12.55" fill="none" stroke="#f27b29" stroke-width="3.3"/><circle cx="696.80" cy="444.08" r="12.55" fill="none" stroke="#4d9be0" stroke-width="3.3" stroke-dasharray="55.986 79.854" transform="rotate(-90 696.80 444.08)"/><circle cx="805.40" cy="444.08" r="12.55" fill="none" stroke="#f27b29" stroke-width="3.3"/><circle cx="805.40" cy="444.08" r="12.55" fill="none" stroke="#4d9be0" stroke-width="3.3" stroke-dasharray="61.506 79.854" transform="rotate(-90 805.40 444.08)"/><circle cx="371.00" cy="480.30" r="12.55" fill="none" stroke="#f27b29" stroke-width="3.3"/><circle cx="371.00" cy="480.30" r="12.55" fill="none" stroke="#4d9be0" stroke-width="3.3" stroke-dasharray="64.660 79.854" transform="rotate(-90 371.00 480.30)"/><circle cx="479.60" cy="480.30" r="12.55" fill="none" stroke="#f27b29" stroke-width="3.3"/><circle cx="479.60" cy="480.30" r="12.55" fill="none" stroke="#4d9be0" stroke-width="3.3" stroke-dasharray="65.449 79.854" transform="rotate(-90 479.60 480.30)"/><circle cx="588.20" cy="480.30" r="12.55" fill="none" stroke="#f27b29" stroke-width="3.3"/><circle cx="588.20" cy="480.30" r="12.55" fill="none" stroke="#4d9be0" stroke-width="3.3" stroke-dasharray="66.237 79.854" transform="rotate(-90 588.20 480.30)"/><circle cx="696.80" cy="480.30" r="12.55" fill="none" stroke="#f27b29" stroke-width="3.3"/><circle cx="696.80" cy="480.30" r="12.55" fill="none" stroke="#4d9be0" stroke-width="3.3" stroke-dasharray="63.872 79.854" transform="rotate(-90 696.80 480.30)"/><circle cx="805.40" cy="480.30" r="12.55" fill="none" stroke="#f27b29" stroke-width="3.3"/><circle cx="805.40" cy="480.30" r="12.55" fill="none" stroke="#4d9be0" stroke-width="3.3" stroke-dasharray="67.026 79.854" transform="rotate(-90 805.40 480.30)"/><circle cx="371.00" cy="516.52" r="12.55" fill="none" stroke="#f27b29" stroke-width="3.3"/><circle cx="371.00" cy="516.52" r="12.55" fill="none" stroke="#4d9be0" stroke-width="3.3" stroke-dasharray="67.814 79.854" transform="rotate(-90 371.00 516.52)"/><circle cx="479.60" cy="516.52" r="12.55" fill="none" stroke="#f27b29" stroke-width="3.3"/><circle cx="479.60" cy="516.52" r="12.55" fill="none" stroke="#4d9be0" stroke-width="3.3" stroke-dasharray="68.603 79.854" transform="rotate(-90 479.60 516.52)"/><circle cx="588.20" cy="516.52" r="12.55" fill="none" stroke="#f27b29" stroke-width="3.3"/><circle cx="588.20" cy="516.52" r="12.55" fill="none" stroke="#4d9be0" stroke-width="3.3" stroke-dasharray="70.180 79.854" transform="rotate(-90 588.20 516.52)"/><circle cx="696.80" cy="516.52" r="12.55" fill="none" stroke="#f27b29" stroke-width="3.3"/><circle cx="696.80" cy="516.52" r="12.55" fill="none" stroke="#4d9be0" stroke-width="3.3" stroke-dasharray="69.391 79.854" transform="rotate(-90 696.80 516.52)"/><circle cx="805.40" cy="516.52" r="12.55" fill="none" stroke="#f27b29" stroke-width="3.3"/><circle cx="805.40" cy="516.52" r="12.55" fill="none" stroke="#4d9be0" stroke-width="3.3" stroke-dasharray="71.757 79.854" transform="rotate(-90 805.40 516.52)"/><circle cx="371.00" cy="552.74" r="12.55" fill="none" stroke="#f27b29" stroke-width="3.3"/><circle cx="371.00" cy="552.74" r="12.55" fill="none" stroke="#4d9be0" stroke-width="3.3" stroke-dasharray="73.334 79.854" transform="rotate(-90 371.00 552.74)"/><circle cx="479.60" cy="552.74" r="12.55" fill="none" stroke="#f27b29" stroke-width="3.3"/><circle cx="479.60" cy="552.74" r="12.55" fill="none" stroke="#4d9be0" stroke-width="3.3" stroke-dasharray="73.334 79.854" transform="rotate(-90 479.60 552.74)"/><circle cx="588.20" cy="552.74" r="12.55" fill="none" stroke="#f27b29" stroke-width="3.3"/><circle cx="588.20" cy="552.74" r="12.55" fill="none" stroke="#4d9be0" stroke-width="3.3" stroke-dasharray="74.911 79.854" transform="rotate(-90 588.20 552.74)"/><circle cx="696.80" cy="552.74" r="12.55" fill="none" stroke="#f27b29" stroke-width="3.3"/><circle cx="696.80" cy="552.74" r="12.55" fill="none" stroke="#4d9be0" stroke-width="3.3" stroke-dasharray="74.911 79.854" transform="rotate(-90 696.80 552.74)"/><circle cx="805.40" cy="552.74" r="12.55" fill="none" stroke="#f27b29" stroke-width="3.3"/><circle cx="805.40" cy="552.74" r="12.55" fill="none" stroke="#4d9be0" stroke-width="3.3" stroke-dasharray="75.700 79.854" transform="rotate(-90 805.40 552.74)"/><circle cx="371.00" cy="588.96" r="12.55" fill="none" stroke="#f27b29" stroke-width="3.3"/><circle cx="371.00" cy="588.96" r="12.55" fill="none" stroke="#4d9be0" stroke-width="3.3" stroke-dasharray="78.854 79.854" transform="rotate(-90 371.00 588.96)"/><circle cx="479.60" cy="588.96" r="12.55" fill="none" stroke="#f27b29" stroke-width="3.3"/><circle cx="479.60" cy="588.96" r="12.55" fill="none" stroke="#4d9be0" stroke-width="3.3" stroke-dasharray="78.854 79.854" transform="rotate(-90 479.60 588.96)"/><circle cx="588.20" cy="588.96" r="12.55" fill="none" stroke="#f27b29" stroke-width="3.3"/><circle cx="588.20" cy="588.96" r="12.55" fill="none" stroke="#4d9be0" stroke-width="3.3" stroke-dasharray="78.854 79.854" transform="rotate(-90 588.20 588.96)"/><circle cx="696.80" cy="588.96" r="12.55" fill="none" stroke="#f27b29" stroke-width="3.3"/><circle cx="696.80" cy="588.96" r="12.55" fill="none" stroke="#4d9be0" stroke-width="3.3" stroke-dasharray="78.854 79.854" transform="rotate(-90 696.80 588.96)"/><circle cx="805.40" cy="588.96" r="12.55" fill="none" stroke="#f27b29" stroke-width="3.3"/><circle cx="805.40" cy="588.96" r="12.55" fill="none" stroke="#4d9be0" stroke-width="3.3" stroke-dasharray="78.854 79.854" transform="rotate(-90 805.40 588.96)"/></svg>
<div class="a note" style="left:75.10px;top:655px;line-height:10px"><span style="letter-spacing:0.508px">Примечание: сроки выполнения этапов реализации интерьера даны на основные виды строительно-отделочных работ, выполняемых на объекте, без учета</span></div>
<div class="a note" style="left:75.10px;top:665px;line-height:10px">сроков необходимых на производство индивидуальной мебели, поставку материалов и оборудования, а также изготовления индивидуальных изделий, таких</div>
<div class="a note" style="left:75.10px;top:675px;line-height:10px"><span style="letter-spacing:0.575px">как лестницы, камины, аквариумы и т. д.</span></div>
</body></html>
